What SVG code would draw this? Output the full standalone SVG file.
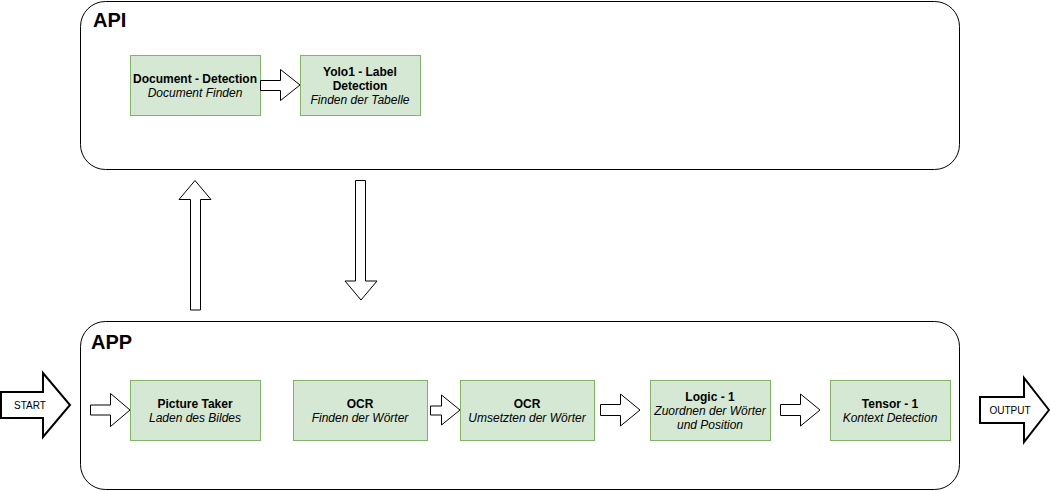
<svg xmlns="http://www.w3.org/2000/svg" width="1050" height="491" viewBox="0 0 1050 491">
<style>
.bg{fill:#ffffff}
.container{fill:#ffffff;stroke:#000000;stroke-width:1}
.box{fill:#d5e8d4;stroke:#82b366;stroke-width:1}
.arr{fill:#ffffff;stroke:#000000;stroke-width:1;stroke-linejoin:miter}
.big{fill:#ffffff;stroke:#000000;stroke-width:2;stroke-linejoin:miter}
text{font-family:"Liberation Sans",Arial,Helvetica,sans-serif;fill:#000000;text-anchor:middle}
.t{font-size:12px;font-weight:bold}
.s{font-size:12px;font-style:italic}
.h{font-size:20px;font-weight:bold;text-anchor:start}
.l{font-size:10px}
</style>
<rect class="bg" x="0" y="0" width="1050" height="491"/>
<g id="api">
<rect class="container" x="80.5" y="1.5" width="879" height="168" rx="25" ry="25"/>
<text class="h" x="93" y="27">API</text>
</g>
<g id="app">
<rect class="container" x="80.5" y="321.5" width="879" height="168" rx="25" ry="25"/>
<text class="h" x="91" y="349">APP</text>
</g>
<g id="doc-detection">
<rect class="box" x="130.5" y="55.5" width="130" height="60"/>
<text class="t" x="195" y="83">Document - Detection</text>
<text class="s" x="195" y="97">Document Finden</text>
</g>
<g id="yolo1">
<rect class="box" x="300.5" y="55.5" width="120" height="60"/>
<text class="t" x="360" y="76">Yolo1 - Label</text>
<text class="t" x="360" y="90">Detection</text>
<text class="s" x="360" y="104">Finden der Tabelle</text>
</g>
<g id="picture-taker">
<rect class="box" x="130.5" y="380.5" width="130" height="60"/>
<text class="t" x="195" y="408">Picture Taker</text>
<text class="s" x="195" y="422">Laden des Bildes</text>
</g>
<g id="ocr1">
<rect class="box" x="293.5" y="380.5" width="134" height="60"/>
<text class="t" x="360" y="408">OCR</text>
<text class="s" x="360" y="422">Finden der Wörter</text>
</g>
<g id="ocr2">
<rect class="box" x="460.5" y="380.5" width="134" height="60"/>
<text class="t" x="527" y="408">OCR</text>
<text class="s" x="527" y="422">Umsetzten der Wörter</text>
</g>
<g id="logic1">
<rect class="box" x="650.5" y="380.5" width="120" height="60"/>
<text class="t" x="710" y="401">Logic - 1</text>
<text class="s" x="710" y="415">Zuordnen der Wörter</text>
<text class="s" x="710" y="429">und Position</text>
</g>
<g id="tensor1">
<rect class="box" x="830.5" y="380.5" width="120" height="60"/>
<text class="t" x="890" y="408">Tensor - 1</text>
<text class="s" x="890" y="422">Kontext Detection</text>
</g>
<g id="start">
<polygon class="big" points="1,392 43,392 43,373 70,405 43,437 43,418 1,418"/>
<text class="l" x="30" y="409">START</text>
</g>
<g id="output">
<polygon class="big" points="980,397 1024,397 1024,378 1049,410 1024,442 1024,423 980,423"/>
<text class="l" x="1010" y="414">OUTPUT</text>
</g>
<g id="connectors">
<polygon class="arr" points="260.5,80.5 280.5,80.5 280.5,69.5 300,85 280.5,100.5 280.5,90.5 260.5,90.5"/>
<polygon class="arr" points="90.5,405 110.5,405 110.5,393.5 130,410 110.5,426.5 110.5,415 90.5,415"/>
<polygon class="arr" points="430.5,406 441.5,406 441.5,395 460,410 441.5,425 441.5,415 430.5,415"/>
<polygon class="arr" points="600.5,404.5 620.5,404.5 620.5,394 640,410 620.5,426 620.5,415.5 600.5,415.5"/>
<polygon class="arr" points="780.5,404.5 800.5,404.5 800.5,394 820,410 800.5,426 800.5,415.5 780.5,415.5"/>
<polygon class="arr" points="190.5,310 190.5,199.5 179,199.5 195,180.5 211,199.5 200.5,199.5 200.5,310"/>
<polygon class="arr" points="355.5,180.5 365.5,180.5 365.5,281 377,281 361,300 345,281 355.5,281"/>
</g>
</svg>
